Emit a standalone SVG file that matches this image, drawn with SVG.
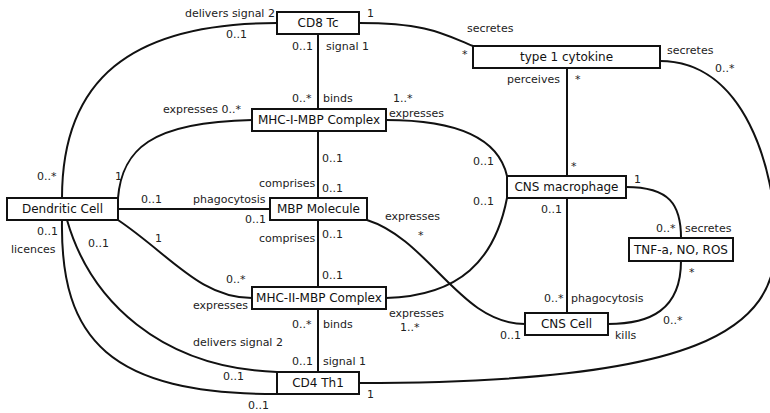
<svg xmlns="http://www.w3.org/2000/svg" width="770" height="413" viewBox="0 0 770 413">
<style>
.n rect{fill:#fff;stroke:#111;stroke-width:2}
.n text{font-family:"DejaVu Sans",sans-serif;font-size:12px;fill:#111;text-anchor:middle}
.c path{fill:none;stroke:#111;stroke-width:2}
.l text{font-family:"DejaVu Sans",sans-serif;font-size:11px;fill:#222}
</style>
<rect width="770" height="413" fill="#fff"/>
<g class="c" id="connectors">
<path d="M62,198 C62,80 130,23 277,23"/>
<path d="M359,23 C430,23 445,35 473,46"/>
<path d="M660,61 C745,61 775,170 776,240 C777,330 700,383 359,383"/>
<path d="M318,34 V109"/>
<path d="M318,131 V198"/>
<path d="M318,220 V287"/>
<path d="M318,309 V372"/>
<path d="M567,68 V176"/>
<path d="M567,198 V313"/>
<path d="M118,209 H270"/>
<path d="M118,198 C122,150 150,122 252,120"/>
<path d="M118,220 C170,255 200,298 252,298"/>
<path d="M67,220 C90,300 160,368 277,372"/>
<path d="M62,220 C60,340 110,394 277,394"/>
<path d="M386,120 C470,120 500,145 507,176"/>
<path d="M386,298 C460,296 495,260 507,198"/>
<path d="M367,220 C430,240 460,324 525,324"/>
<path d="M626,187 C670,187 681,205 681,238"/>
<path d="M681,261 C681,310 650,324 608,324"/>
</g>
<g class="n" id="cd8"><rect x="277" y="12" width="82" height="22"/><text x="318" y="27">CD8 Tc</text></g>
<g class="n" id="cytokine"><rect x="473" y="46" width="187" height="22"/><text x="566.5" y="61">type 1 cytokine</text></g>
<g class="n" id="mhc1"><rect x="252" y="109" width="134" height="22"/><text x="319" y="124">MHC-I-MBP Complex</text></g>
<g class="n" id="dendritic"><rect x="7" y="198" width="111" height="22"/><text x="62.5" y="213">Dendritic Cell</text></g>
<g class="n" id="mbp"><rect x="270" y="198" width="97" height="22"/><text x="318.5" y="213">MBP Molecule</text></g>
<g class="n" id="macrophage"><rect x="507" y="176" width="119" height="22"/><text x="566.5" y="191">CNS macrophage</text></g>
<g class="n" id="tnf"><rect x="629" y="238" width="104" height="23"/><text x="681" y="253.5">TNF-a, NO, ROS</text></g>
<g class="n" id="mhc2"><rect x="252" y="287" width="134" height="22"/><text x="319" y="302">MHC-II-MBP Complex</text></g>
<g class="n" id="cnscell"><rect x="525" y="313" width="83" height="22"/><text x="566.5" y="328">CNS Cell</text></g>
<g class="n" id="cd4"><rect x="277" y="372" width="82" height="22"/><text x="318" y="387">CD4 Th1</text></g>
<g class="l" id="labels">
<text x="185" y="17">delivers signal 2</text>
<text x="226" y="38">0..1</text>
<text x="367" y="17">1</text>
<text x="467" y="32">secretes</text>
<text x="462" y="58">*</text>
<text x="292" y="50">0..1</text>
<text x="326" y="50">signal 1</text>
<text x="292" y="102">0..*</text>
<text x="323" y="102">binds</text>
<text x="393" y="102">1..*</text>
<text x="389" y="117">expresses</text>
<text x="163" y="113">expresses 0..*</text>
<text x="667" y="54">secretes</text>
<text x="715" y="72">0..*</text>
<text x="507" y="83">perceives</text>
<text x="575" y="83">*</text>
<text x="37" y="180">0..*</text>
<text x="115" y="180">1</text>
<text x="141" y="203">0..1</text>
<text x="193" y="203">phagocytosis</text>
<text x="37" y="235">0..1</text>
<text x="11" y="253">licences</text>
<text x="88" y="247">0..1</text>
<text x="155" y="242">1</text>
<text x="322" y="162">0..1</text>
<text x="259" y="187">comprises</text>
<text x="322" y="192">0..1</text>
<text x="245" y="223">0..1</text>
<text x="259" y="242">comprises</text>
<text x="322" y="238">0..1</text>
<text x="385" y="220">expresses</text>
<text x="418" y="239">*</text>
<text x="473" y="165">0..1</text>
<text x="473" y="205">0..1</text>
<text x="322" y="279">0..1</text>
<text x="571" y="170">*</text>
<text x="634" y="183">1</text>
<text x="541" y="213">0..1</text>
<text x="656" y="232">0..*</text>
<text x="685" y="232">secretes</text>
<text x="689" y="276">*</text>
<text x="226" y="283">0..*</text>
<text x="193" y="309">expresses</text>
<text x="193" y="346">delivers  signal 2</text>
<text x="223" y="380">0..1</text>
<text x="248" y="409">0..1</text>
<text x="389" y="317">expresses</text>
<text x="400" y="331">1..*</text>
<text x="292" y="328">0..*</text>
<text x="323" y="328">binds</text>
<text x="292" y="365">0..1</text>
<text x="323" y="365">signal 1</text>
<text x="367" y="398">1</text>
<text x="544" y="302">0..*</text>
<text x="571" y="302">phagocytosis</text>
<text x="500" y="339">0..1</text>
<text x="615" y="339">kills</text>
<text x="663" y="324">0..*</text>
</g>
</svg>
